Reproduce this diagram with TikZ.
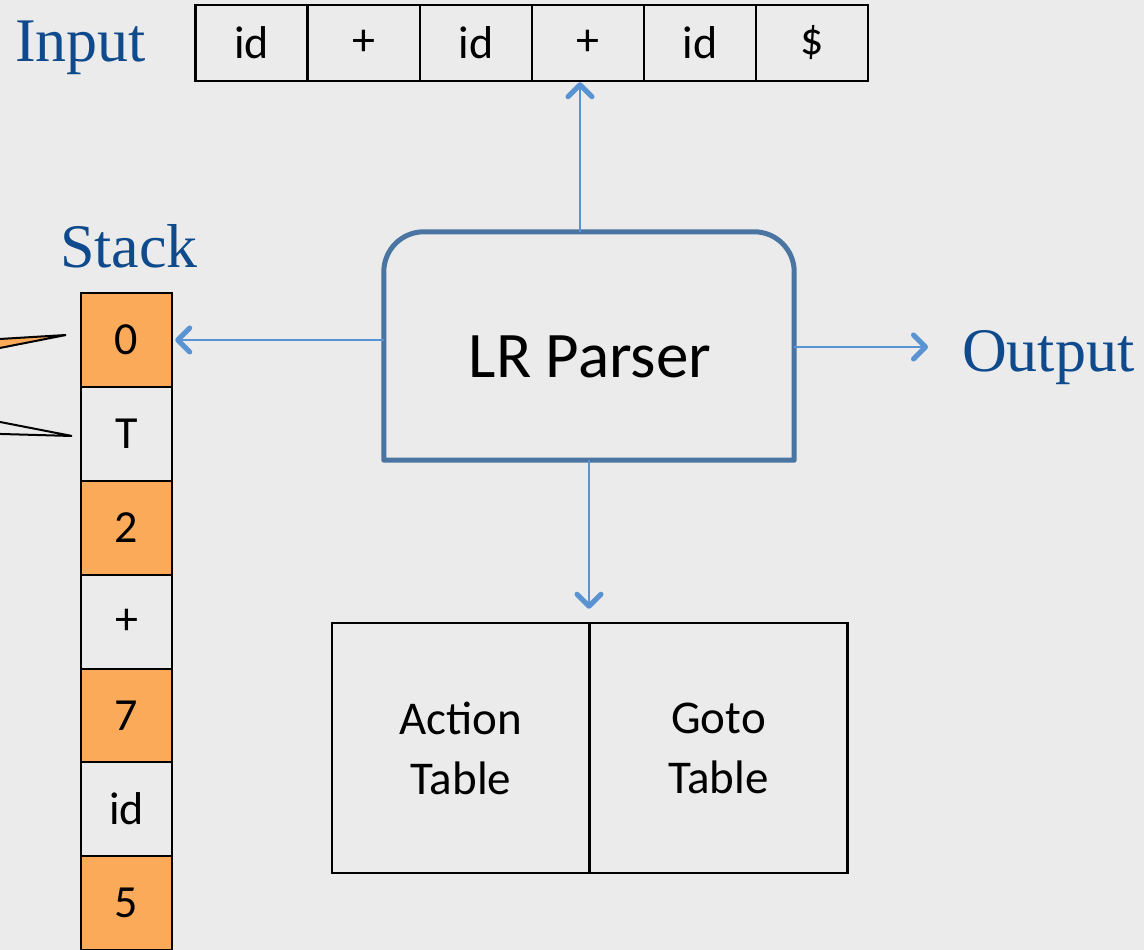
\documentclass[tikz,border=0pt]{standalone}
\usepackage{fontspec}
\newfontfamily\cellfont{Carlito}
\newfontfamily\titlefont{Liberation Serif}
\usetikzlibrary{arrows.meta}
\definecolor{bgc}{HTML}{EBEBEB}
\definecolor{titleblue}{HTML}{0E4A8C}
\definecolor{boxblue}{HTML}{4A74A1}
\definecolor{arrowblue}{HTML}{5A93D1}
\definecolor{stateorange}{HTML}{FBAA5A}
\tikzset{
  cellbox/.style={draw=black, line width=2.5pt, minimum width=112pt, minimum height=76pt,
    inner sep=0pt, font=\cellfont\fontsize{46}{50}\selectfont},
  stackcell/.style={draw=black, line width=2.5pt, minimum width=91pt, minimum height=94pt,
    inner sep=0pt, font=\cellfont\fontsize{46}{50}\selectfont},
  statecell/.style={stackcell, fill=stateorange},
  symcell/.style={stackcell, fill=bgc},
  title/.style={text=titleblue, inner sep=0pt, font=\titlefont\fontsize{62}{70}\selectfont},
  flow/.style={draw=arrowblue, line width=2pt,
    -{Straight Barb[length=12pt,width=24pt,line width=5pt,round]}},
  tablebox/.style={draw=black, line width=2.5pt, minimum width=258pt, minimum height=250pt,
    inner sep=0pt, align=center, font=\cellfont\fontsize{47}{60}\selectfont},
}
\begin{document}
\begin{tikzpicture}[x=1pt,y=1pt]
  \useasboundingbox[fill=bgc] (0,0) rectangle (1144,950);

  % input tape
  \node[cellbox] (in1) at (251.5,907) {id};
  \node[cellbox] (in2) at (364,907) {+};
  \node[cellbox] (in3) at (476,907) {id};
  \node[cellbox] (in4) at (588,907) {+};
  \node[cellbox] (in5) at (700,907) {id};
  \node[cellbox] (in6) at (812,907) {\$};
  \node[title, anchor=base west] (inputlbl) at (15,888) {Input};

  % stack, top at the upper end
  \node[statecell] (s1) at (126.5,610) {0};
  \node[symcell]   (s2) at (126.5,516) {T};
  \node[statecell] (s3) at (126.5,422) {2};
  \node[symcell]   (s4) at (126.5,328) {+};
  \node[statecell] (s5) at (126.5,234) {7};
  \node[symcell]   (s6) at (126.5,141) {id};
  \node[statecell] (s7) at (126.5,47) {5};
  \node[title, anchor=base west] (stacklbl) at (60,682) {Stack};

  % callout tails reaching the stack entries
  \coordinate (tipA) at (66,615);
  \coordinate (tipB) at (72,514);
  \draw[line width=2pt, fill=stateorange] (-20,609.8) -- (tipA) -- (-20,598.1);
  \draw[line width=2pt, fill=bgc] (-20,531.9) -- (tipB) -- (-20,516.6);

  % parser box with rounded upper corners
  \node[minimum width=410pt, minimum height=228pt, inner sep=0pt] (parser) at (589,604) {};
  \draw[boxblue, line width=5pt, line join=round]
    (parser.south west) -- ([yshift=-40pt]parser.north west)
    arc[start angle=180, end angle=90, radius=40pt]
    -- ([xshift=-40pt]parser.north east)
    arc[start angle=90, end angle=0, radius=40pt]
    -- (parser.south east) -- cycle;
  \node[inner sep=0pt, font=\cellfont\fontsize{65}{70}\selectfont] (parserlbl) at (590,593) {LR Parser};

  % output
  \node[title, anchor=base west] (outputlbl) at (962,578) {Output};
  \coordinate (outtip) at (928,603);

  % tables
  \node[tablebox] (action) at (461,202) {Action\\Table};
  \node[tablebox] (goto) at (718.5,202) {Goto\\Table};

  % connectors
  \coordinate (upfoot) at ([xshift=-8pt]in4.south);
  \draw[flow] (parser.north -| upfoot) -- (upfoot);
  \draw[flow] (parser.west |- s1.east) -- ([xshift=2pt]s1.east);
  \draw[flow] (parser.east |- outtip) -- (outtip);
  \draw[flow] (parser.south) -- ([yshift=13pt]parser.south |- action.north);
\end{tikzpicture}
\end{document}
